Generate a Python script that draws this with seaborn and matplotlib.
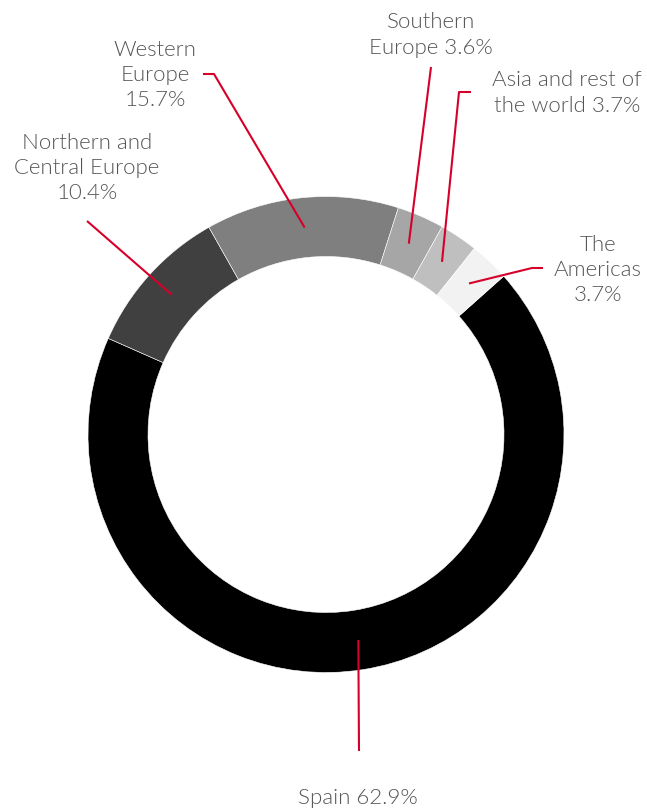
import matplotlib

matplotlib.use("Agg")
import matplotlib.pyplot as plt
import numpy as np
import seaborn as sns

# Regions, clockwise from the Spain wedge
regions = ["Spain", "Northern and Central Europe", "Western Europe",
           "Southern Europe", "Asia and rest of the world", "The Americas"]
# printed shares (labels)
shares = [62.9, 10.4, 15.7, 3.6, 3.7, 3.7]
# wedge sizes as drawn in the picture (measured angles, %)
wedge_share = [68.2, 10.2, 13.1, 3.2, 2.6, 2.7]
label_text = ["Spain 62.9%", "Northern and\nCentral Europe\n10.4%", "Western\nEurope\n15.7%",
              "Southern\nEurope 3.6%", "Asia and rest of\nthe world 3.7%", "The\nAmericas\n3.7%"]
grays = ["#000000", "#404040", "#7f7f7f", "#a6a6a6", "#bfbfbf", "#f2f2f2"]

sns.set_theme(style="white")
plt.rcParams["font.family"] = ["Lato", "DejaVu Sans"]

W, H = 647, 810
CX, CY, R = 326, 434.5, 238.0


def px(x, y):
    # pixel position of the reference -> data coords (pie radius = 1)
    return (x - CX) / R, (CY - y) / R


fig = plt.figure(figsize=(W / 100, H / 100), dpi=100)
ax = fig.add_axes([0, 0, 1, 1])
wedges, _ = ax.pie(wedge_share, colors=grays, startangle=41.7, counterclock=False,
                   radius=1.0, wedgeprops=dict(width=60 / R, edgecolor="white", linewidth=0.4))
ax.set_xlim(-CX / R, (W - CX) / R)
ax.set_ylim(-(H - CY) / R, CY / R)
ax.axis("off")

# leader line start (near label) and optional elbow, in reference pixels
leaders = [
    [(359, 751)],
    [(87, 221)],
    [(203, 74), (214, 74)],
    [(431, 67)],
    [(471, 92), (459, 92)],
    [(543, 268), (532, 268)],
]
# label centres in reference pixels
label_pos = [(358, 798), (87, 168), (155, 75), (431, 35), (567, 93), (598, 270)]

mid_r = 1 - 30 / R
red = "#d6002a"
for w, pts, txt, (lx, ly) in zip(wedges, leaders, label_text, label_pos):
    ang = np.deg2rad((w.theta1 + w.theta2) / 2)
    xs = [px(*p)[0] for p in pts] + [mid_r * np.cos(ang)]
    ys = [px(*p)[1] for p in pts] + [mid_r * np.sin(ang)]
    ax.plot(xs, ys, color=red, lw=1.5, solid_capstyle="butt")
    tx, ty = px(lx, ly)
    ax.text(tx, ty, txt, ha="center", va="center", fontsize=16, color="#555555",
            fontweight=300, linespacing=1.33)

fig.savefig("out.png", dpi=100)
